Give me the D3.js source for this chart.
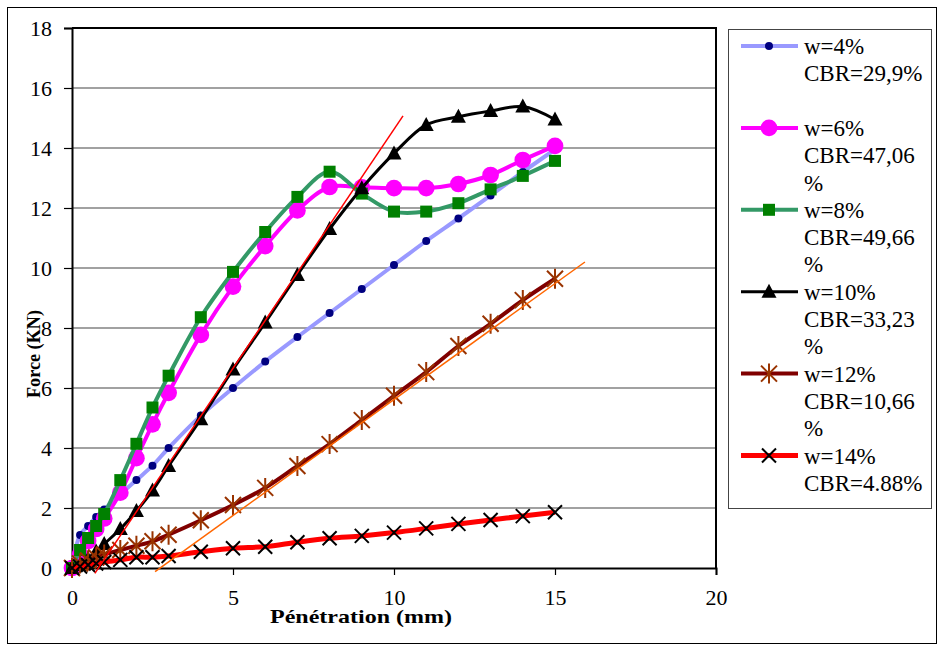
<!DOCTYPE html>
<html>
<head>
<meta charset="utf-8">
<script src="https://cdn.jsdelivr.net/npm/d3@7"></script>
<style>
  body { margin: 0; background: #fff; }
  text { font-family: "Liberation Serif", "Times New Roman", serif; }
</style>
</head>
<body>
<svg id="chart" width="938" height="648"></svg>
<script>
// ---------- DATA ----------
var penetration = [0, 0.25, 0.5, 0.75, 1, 1.5, 2, 2.5, 3, 4, 5, 6, 7, 8, 9, 10, 11, 12, 13, 14, 15];

var force4  = [0, 1.1, 1.4, 1.7, 1.95, 2.45, 2.93, 3.41, 4.0, 5.08, 6.0, 6.88, 7.7, 8.5, 9.3, 10.1, 10.9, 11.65, 12.42, 13.2, 13.95];
var force6  = [0, 0.45, 0.9, 1.3, 1.65, 2.51, 3.66, 4.79, 5.84, 7.77, 9.38, 10.73, 11.92, 12.7, 12.69, 12.66, 12.66, 12.8, 13.1, 13.6, 14.07];
var force8  = [0, 0.6, 1.0, 1.4, 1.8, 2.93, 4.14, 5.35, 6.41, 8.36, 9.87, 11.2, 12.37, 13.21, 12.48, 11.88, 11.88, 12.16, 12.62, 13.07, 13.57];
var force10 = [0, 0.1, 0.3, 0.55, 0.8, 1.3, 1.9, 2.58, 3.4, 4.96, 6.62, 8.18, 9.77, 11.3, 12.66, 13.82, 14.77, 15.04, 15.23, 15.38, 14.95];
var force12 = [0, 0.15, 0.25, 0.35, 0.45, 0.6, 0.74, 0.89, 1.11, 1.59, 2.1, 2.67, 3.4, 4.13, 4.93, 5.74, 6.53, 7.4, 8.14, 8.93, 9.64];
var force14 = [0, 0.05, 0.1, 0.15, 0.2, 0.27, 0.36, 0.36, 0.4, 0.54, 0.66, 0.71, 0.86, 0.99, 1.07, 1.18, 1.32, 1.47, 1.6, 1.73, 1.86];

var seriesNames = [["w=4%", "CBR=29,9%"], ["w=6%", "CBR=47,06", "%"], ["w=8%", "CBR=49,66", "%"],
                   ["w=10%", "CBR=33,23", "%"], ["w=12%", "CBR=10,66", "%"], ["w=14%", "CBR=4.88%"]];

// tangent lines (start / end points)
var tangentRed    = [[0.71, -0.18], [10.28, 15.07]];
var tangentOrange = [[2.58, -0.12], [15.93, 10.2]];

var xTicks = [0, 5, 10, 15, 20];
var yTicks = [0, 2, 4, 6, 8, 10, 12, 14, 16, 18];

// ---------- STYLES ----------
var serif = "'Liberation Serif', 'Times New Roman', serif";

var styles = [
  { line: "#9999ff", width: 4, marker: "dot",      fill: "#000080", stroke: "none" },
  { line: "#ff00ff", width: 4, marker: "circle",   fill: "#ff00ff", stroke: "none" },
  { line: "#339966", width: 4, marker: "square",   fill: "#008000", stroke: "none" },
  { line: "#000000", width: 3, marker: "triangle", fill: "#000000", stroke: "none" },
  { line: "#800000", width: 4, marker: "asterisk", fill: "none",    stroke: "#993300" },
  { line: "#ff0000", width: 5, marker: "cross",    fill: "none",    stroke: "#000000" }
];

var allForces = [force4, force6, force8, force10, force12, force14];

// ---------- SCALES ----------
var x = d3.scaleLinear().domain([0, 20]).range([72, 716]);
var y = d3.scaleLinear().domain([0, 18]).range([568, 28]);

var svg = d3.select("#chart");

// outer frame
svg.append("rect")
  .attr("x", 7.5).attr("y", 7.5).attr("width", 929).attr("height", 636)
  .attr("fill", "none").attr("stroke", "#000").attr("stroke-width", 1);

// grid
svg.append("g").selectAll("line")
  .data(yTicks.slice(1, -1))
  .enter().append("line")
  .attr("x1", x(0)).attr("x2", x(20))
  .attr("y1", d => y(d)).attr("y2", d => y(d))
  .attr("stroke", "#444").attr("stroke-width", 1.2);

// plot border (top + right)
svg.append("path")
  .attr("d", "M" + x(0) + "," + y(18) + "H" + x(20) + "V" + y(0))
  .attr("fill", "none").attr("stroke", "#000").attr("stroke-width", 2);

// axes
var xAxis = svg.append("g")
  .attr("transform", "translate(0," + y(0) + ")")
  .call(d3.axisBottom(x).tickValues(xTicks).tickSize(7).tickPadding(14));
var yAxis = svg.append("g")
  .attr("transform", "translate(" + x(0) + ",0)")
  .call(d3.axisLeft(y).tickValues(yTicks).tickSize(8).tickPadding(12));

[xAxis, yAxis].forEach(function(g) {
  g.select(".domain").attr("stroke", "#000").attr("stroke-width", 2);
  g.selectAll(".tick line").attr("stroke", "#000").attr("stroke-width", 1.2);
  g.selectAll(".tick text")
    .attr("fill", "#000")
    .style("font-family", serif)
    .style("font-size", "22px");
});

// axis titles (the original text is stretched horizontally)
svg.append("text")
  .attr("x", 361).attr("y", 623)
  .attr("text-anchor", "middle")
  .attr("textLength", 182).attr("lengthAdjust", "spacingAndGlyphs")
  .style("font-family", serif)
  .style("font-size", "19px").style("font-weight", "bold")
  .text("Pénétration (mm)");

svg.append("text")
  .attr("transform", "translate(40,354) rotate(-90)")
  .attr("text-anchor", "middle")
  .attr("textLength", 88).attr("lengthAdjust", "spacingAndGlyphs")
  .style("font-family", serif)
  .style("font-size", "19px").style("font-weight", "bold")
  .text("Force (KN)");

// ---------- MARKERS ----------
function markerPath(type) {
  switch (type) {
    case "dot":      return d3.symbol(d3.symbolCircle, 50)();
    case "circle":   return d3.symbol(d3.symbolCircle, 220)();
    case "square":   return "M-6,-6H6V6H-6Z";
    case "triangle": return "M0,-8L7.5,6L-7.5,6Z";
    case "asterisk": return "M0,-10V10M-8,-8L8,8M-8,8L8,-8";
    case "cross":    return "M-7,-7L7,7M-7,7L7,-7";
  }
}

var line = d3.line()
  .x(d => x(d[0]))
  .y(d => y(d[1]))
  .curve(d3.curveCatmullRom.alpha(0.5));

// ---------- SERIES ----------
allForces.forEach(function(vals, i) {
  var st = styles[i];
  var pts = penetration.map((p, k) => [p, vals[k]]);
  var g = svg.append("g");

  g.append("path")
    .datum(pts)
    .attr("d", line)
    .attr("fill", "none")
    .attr("stroke", st.line)
    .attr("stroke-width", st.width)
    .attr("stroke-linejoin", "round");

  g.selectAll(".m")
    .data(pts)
    .enter().append("path")
    .attr("transform", d => "translate(" + x(d[0]) + "," + y(d[1]) + ")")
    .attr("d", markerPath(st.marker))
    .attr("fill", st.fill)
    .attr("stroke", st.stroke)
    .attr("stroke-width", 2);
});

// tangent lines
[[tangentRed, "#ff0000"], [tangentOrange, "#ff6600"]].forEach(function(t) {
  svg.append("line")
    .attr("x1", x(t[0][0][0])).attr("y1", y(t[0][0][1]))
    .attr("x2", x(t[0][1][0])).attr("y2", y(t[0][1][1]))
    .attr("stroke", t[1]).attr("stroke-width", 1.5);
});

// ---------- LEGEND ----------
svg.append("rect")
  .attr("x", 728.5).attr("y", 29.5).attr("width", 203).attr("height", 479)
  .attr("fill", "#fff").attr("stroke", "#444").attr("stroke-width", 1);

var lineH = 27.3;
var legend = svg.append("g").selectAll("g")
  .data(seriesNames)
  .enter().append("g")
  .attr("transform", (d, i) => "translate(0," + (46 + i * 3 * lineH) + ")");

legend.append("line")
  .attr("x1", 741).attr("x2", 798)
  .attr("stroke", (d, i) => styles[i].line)
  .attr("stroke-width", (d, i) => styles[i].width);

legend.append("path")
  .attr("transform", "translate(769,0)")
  .attr("d", (d, i) => markerPath(styles[i].marker))
  .attr("fill", (d, i) => styles[i].fill)
  .attr("stroke", (d, i) => styles[i].stroke)
  .attr("stroke-width", 2);

legend.selectAll("text")
  .data(d => d)
  .enter().append("text")
  .attr("x", 804)
  .attr("y", (d, k) => k * lineH)
  .attr("dy", "0.35em")
  .style("font-family", serif)
  .style("font-size", "23px")
  .text(d => d);
</script>
</body>
</html>
